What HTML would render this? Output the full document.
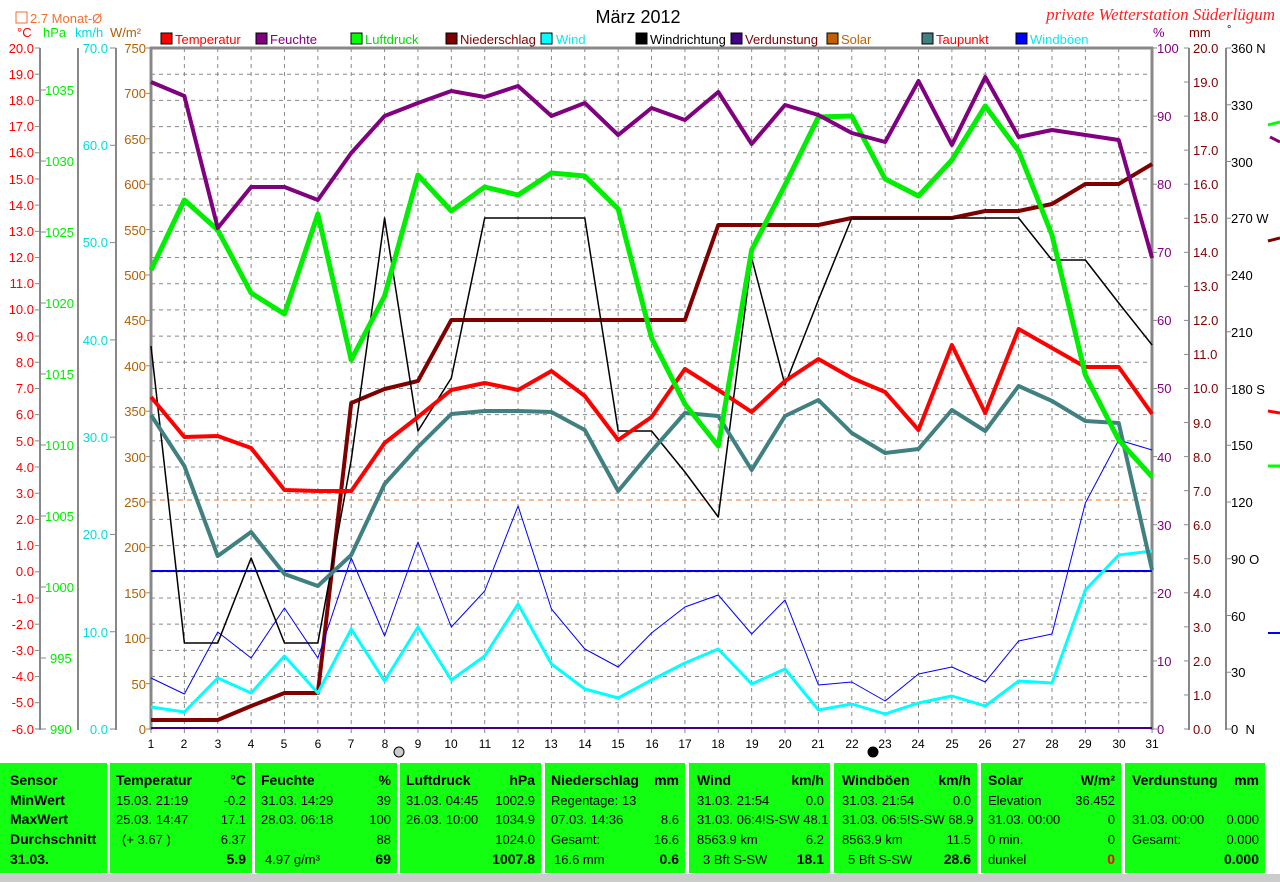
<!DOCTYPE html>
<html><head><meta charset="utf-8"><style>
body{margin:0;background:#fff;width:1280px;height:882px;overflow:hidden;position:relative;font-family:"Liberation Sans",sans-serif}
svg{position:absolute;left:0;top:0}
.tb{position:absolute;top:763px;height:110px;background:#12ff12;font-size:13px;color:#000}
.tb div{position:absolute;white-space:nowrap}
.h{font-weight:bold;font-size:14px}
</style></head><body>
<svg width="1280" height="882" font-family="Liberation Sans, sans-serif">
<g id="grid" stroke="#888" stroke-dasharray="4,4" stroke-width="1"></g>
<line x1="150" y1="48" x2="1153" y2="48" stroke="#888" stroke-width="3"/>
<line x1="151" y1="47" x2="151" y2="730" stroke="#888" stroke-width="3"/>
<line x1="1152" y1="47" x2="1152" y2="730" stroke="#888" stroke-width="3"/>
<line x1="40" y1="48" x2="40" y2="730" stroke="#888" stroke-width="2"/>
<line x1="78" y1="48" x2="78" y2="730" stroke="#888" stroke-width="2"/>
<line x1="116" y1="48" x2="116" y2="730" stroke="#888" stroke-width="2"/>
<line x1="1189" y1="48" x2="1189" y2="730" stroke="#888" stroke-width="2"/>
<line x1="1226" y1="48" x2="1226" y2="730" stroke="#888" stroke-width="2"/>
<g id="ticks" stroke="#888" stroke-width="1"></g>
<line x1="151" y1="500" x2="1152" y2="500" stroke="#f07020" stroke-dasharray="5,4" stroke-width="1"/>
<line x1="151" y1="571" x2="1152" y2="571" stroke="#0000ee" stroke-width="2"/>
<line x1="151" y1="728" x2="1152" y2="728" stroke="#400080" stroke-width="2"/>
<g id="series" fill="none" stroke-linejoin="round"></g>
<circle cx="399" cy="752" r="5" fill="#ccc" stroke="#000"/>
<circle cx="873" cy="752" r="5" fill="#000" stroke="#000"/>
<text x="638" y="23" font-size="18" text-anchor="middle">März 2012</text>
<text x="1275" y="20" font-size="17" fill="#ff2020" font-style="italic" font-family="Liberation Serif, serif" text-anchor="end">private Wetterstation Süderlügum</text>
<rect x="16" y="12" width="11" height="11" fill="none" stroke="#f07030"/>
<text x="30" y="23" font-size="13" fill="#f07030">2.7 Monat-Ø</text>
<text x="17" y="37" font-size="13" fill="#f00">°C</text><text x="43" y="37" font-size="13" fill="#0e0">hPa</text><text x="75" y="37" font-size="13" fill="#0dd">km/h</text><text x="110" y="37" font-size="13" fill="#b06000">W/m²</text>
<text x="1153" y="37" font-size="13" fill="#800080">%</text><text x="1189" y="37" font-size="13" fill="#800000">mm</text><text x="1227" y="33" font-size="11">°</text>
<g font-size="13">
<rect x="161" y="33" width="11" height="11" fill="#f00" stroke="#000"/><text x="175" y="44" fill="#f00">Temperatur</text>
<rect x="256" y="33" width="11" height="11" fill="#800080" stroke="#000"/><text x="270" y="44" fill="#800080">Feuchte</text>
<rect x="351" y="33" width="11" height="11" fill="#0f0" stroke="#000"/><text x="365" y="44" fill="#0d0">Luftdruck</text>
<rect x="446" y="33" width="11" height="11" fill="#800000" stroke="#000"/><text x="460" y="44" fill="#800000">Niederschlag</text>
<rect x="541" y="33" width="11" height="11" fill="#0ff" stroke="#000"/><text x="556" y="44" fill="#0ee">Wind</text>
<rect x="636" y="33" width="11" height="11" fill="#000" stroke="#000"/><text x="650" y="44">Windrichtung</text>
<rect x="731" y="33" width="11" height="11" fill="#400080" stroke="#000"/><text x="745" y="44" fill="#800000">Verdunstung</text>
<rect x="827" y="33" width="11" height="11" fill="#c06000" stroke="#000"/><text x="841" y="44" fill="#c06000">Solar</text>
<rect x="922" y="33" width="11" height="11" fill="#408080" stroke="#000"/><text x="936" y="44" fill="#f00">Taupunkt</text>
<rect x="1016" y="33" width="11" height="11" fill="#00f" stroke="#000"/><text x="1030" y="44" fill="#0ee">Windböen</text>
</g>
<g font-size="13" fill="#f00" text-anchor="end">
<text x="34" y="53">20.0</text><text x="34" y="79">19.0</text><text x="34" y="105">18.0</text><text x="34" y="131">17.0</text><text x="34" y="157">16.0</text><text x="34" y="184">15.0</text><text x="34" y="210">14.0</text><text x="34" y="236">13.0</text><text x="34" y="262">12.0</text><text x="34" y="288">11.0</text><text x="34" y="314">10.0</text><text x="34" y="341">9.0</text><text x="34" y="367">8.0</text><text x="34" y="393">7.0</text><text x="34" y="419">6.0</text><text x="34" y="446">5.0</text><text x="34" y="472">4.0</text><text x="34" y="498">3.0</text><text x="34" y="524">2.0</text><text x="34" y="550">1.0</text><text x="34" y="576">0.0</text><text x="34" y="603">-1.0</text><text x="34" y="629">-2.0</text><text x="34" y="655">-3.0</text><text x="34" y="681">-4.0</text><text x="34" y="707">-5.0</text><text x="34" y="734">-6.0</text>
</g>
<g font-size="13" fill="#0e0">
<text x="45" y="95">1035</text><text x="45" y="166">1030</text><text x="45" y="237">1025</text><text x="45" y="308">1020</text><text x="45" y="379">1015</text><text x="45" y="450">1010</text><text x="45" y="521">1005</text><text x="45" y="592">1000</text><text x="50" y="663">995</text><text x="50" y="734">990</text>
</g>
<g font-size="13" fill="#0dd" text-anchor="end">
<text x="108" y="53">70.0</text><text x="108" y="150">60.0</text><text x="108" y="247">50.0</text><text x="108" y="345">40.0</text><text x="108" y="442">30.0</text><text x="108" y="539">20.0</text><text x="108" y="637">10.0</text><text x="108" y="734">0.0</text>
</g>
<g font-size="13" fill="#b06000" text-anchor="end">
<text x="146" y="53">750</text><text x="146" y="98">700</text><text x="146" y="144">650</text><text x="146" y="189">600</text><text x="146" y="235">550</text><text x="146" y="280">500</text><text x="146" y="325">450</text><text x="146" y="371">400</text><text x="146" y="416">350</text><text x="146" y="462">300</text><text x="146" y="507">250</text><text x="146" y="552">200</text><text x="146" y="598">150</text><text x="146" y="643">100</text><text x="146" y="689">50</text><text x="146" y="734">0</text>
</g>
<g font-size="13" fill="#800080">
<text x="1157" y="53">100</text><text x="1157" y="121">90</text><text x="1157" y="189">80</text><text x="1157" y="257">70</text><text x="1157" y="325">60</text><text x="1157" y="393">50</text><text x="1157" y="462">40</text><text x="1157" y="530">30</text><text x="1157" y="598">20</text><text x="1157" y="666">10</text><text x="1157" y="734">0</text>
</g>
<g font-size="13" fill="#800000">
<text x="1193" y="53">20.0</text><text x="1193" y="87">19.0</text><text x="1193" y="121">18.0</text><text x="1193" y="155">17.0</text><text x="1193" y="189">16.0</text><text x="1193" y="223">15.0</text><text x="1193" y="257">14.0</text><text x="1193" y="291">13.0</text><text x="1193" y="325">12.0</text><text x="1193" y="359">11.0</text><text x="1193" y="393">10.0</text><text x="1193" y="428">9.0</text><text x="1193" y="462">8.0</text><text x="1193" y="496">7.0</text><text x="1193" y="530">6.0</text><text x="1193" y="564">5.0</text><text x="1193" y="598">4.0</text><text x="1193" y="632">3.0</text><text x="1193" y="666">2.0</text><text x="1193" y="700">1.0</text><text x="1193" y="734">0.0</text>
</g>
<g font-size="13" fill="#000">
<text x="1231" y="53">360 N</text><text x="1231" y="110">330</text><text x="1231" y="167">300</text><text x="1231" y="223">270 W</text><text x="1231" y="280">240</text><text x="1231" y="337">210</text><text x="1231" y="394">180 S</text><text x="1231" y="450">150</text><text x="1231" y="507">120</text><text x="1231" y="564">90 O</text><text x="1231" y="621">60</text><text x="1231" y="677">30</text><text x="1231" y="734">0&#160;&#160;N</text>
</g>
<g font-size="12" text-anchor="middle">
<text x="151" y="748">1</text><text x="184" y="748">2</text><text x="218" y="748">3</text><text x="251" y="748">4</text><text x="284" y="748">5</text><text x="318" y="748">6</text><text x="351" y="748">7</text><text x="385" y="748">8</text><text x="418" y="748">9</text><text x="451" y="748">10</text><text x="485" y="748">11</text><text x="518" y="748">12</text><text x="551" y="748">13</text><text x="585" y="748">14</text><text x="618" y="748">15</text><text x="652" y="748">16</text><text x="685" y="748">17</text><text x="718" y="748">18</text><text x="752" y="748">19</text><text x="785" y="748">20</text><text x="818" y="748">21</text><text x="852" y="748">22</text><text x="885" y="748">23</text><text x="918" y="748">24</text><text x="952" y="748">25</text><text x="985" y="748">26</text><text x="1019" y="748">27</text><text x="1052" y="748">28</text><text x="1085" y="748">29</text><text x="1119" y="748">30</text><text x="1152" y="748">31</text>
</g>
<g stroke-width="3">
<line x1="1268" y1="125" x2="1280" y2="122" stroke="#0f0"/>
<line x1="1268" y1="241" x2="1280" y2="238" stroke="#800000"/>
<line x1="1268" y1="411" x2="1280" y2="413" stroke="#f00"/>
<line x1="1268" y1="466" x2="1280" y2="466" stroke="#0f0"/>
<line x1="1268" y1="633" x2="1280" y2="633" stroke="#00f" stroke-width="2"/>
<line x1="1270" y1="137" x2="1280" y2="142" stroke="#800080"/>
</g>
<rect x="0" y="874" width="1280" height="8" fill="#ccc"/>
</svg>

<div class="tb" style="left:0;width:107px"><div class="h" style="left:10px;top:9px">Sensor</div><div class="h" style="left:10px;top:29px">MinWert</div><div class="h" style="left:10px;top:48px">MaxWert</div><div class="h" style="left:10px;top:68px">Durchschnitt</div><div class="h" style="left:10px;top:88px">31.03.</div></div>
<div class="tb" style="left:110px;width:142px"><div class="h" style="left:6px;top:9px">Temperatur</div><div class="h" style="right:6px;top:9px">°C</div><div style="left:6px;top:30px">15.03.&#160;21:19</div><div style="right:6px;top:30px">-0.2</div><div style="left:6px;top:49px">25.03.&#160;14:47</div><div style="right:6px;top:49px">17.1</div><div style="left:12px;top:69px">(+ 3.67 )</div><div style="right:6px;top:69px">6.37</div><div class="h" style="right:6px;top:88px">5.9</div></div>
<div class="tb" style="left:255px;width:142px"><div class="h" style="left:6px;top:9px">Feuchte</div><div class="h" style="right:6px;top:9px">%</div><div style="left:6px;top:30px">31.03.&#160;14:29</div><div style="right:6px;top:30px">39</div><div style="left:6px;top:49px">28.03.&#160;06:18</div><div style="right:6px;top:49px">100</div><div style="right:6px;top:69px">88</div><div style="left:10px;top:89px">4.97 g/m³</div><div class="h" style="right:6px;top:88px">69</div></div>
<div class="tb" style="left:400px;width:141px"><div class="h" style="left:6px;top:9px">Luftdruck</div><div class="h" style="right:6px;top:9px">hPa</div><div style="left:6px;top:30px">31.03.&#160;04:45</div><div style="right:6px;top:30px">1002.9</div><div style="left:6px;top:49px">26.03.&#160;10:00</div><div style="right:6px;top:49px">1034.9</div><div style="right:6px;top:69px">1024.0</div><div class="h" style="right:6px;top:88px">1007.8</div></div>
<div class="tb" style="left:545px;width:140px"><div class="h" style="left:6px;top:9px">Niederschlag</div><div class="h" style="right:6px;top:9px">mm</div><div style="left:6px;top:30px">Regentage: 13</div><div style="left:6px;top:49px">07.03.&#160;14:36</div><div style="right:6px;top:49px">8.6</div><div style="left:6px;top:69px">Gesamt:</div><div style="right:6px;top:69px">16.6</div><div style="left:9px;top:89px">16.6 mm</div><div class="h" style="right:6px;top:88px">0.6</div></div>
<div class="tb" style="left:689px;width:141px"><div class="h" style="left:8px;top:9px">Wind</div><div class="h" style="right:6px;top:9px">km/h</div><div style="left:8px;top:30px">31.03.&#160;21:54</div><div style="right:6px;top:30px">0.0</div><div style="left:8px;top:49px">31.03.&#160;06:4!S-SW 48.1</div><div style="left:8px;top:69px">8563.9 km</div><div style="right:6px;top:69px">6.2</div><div style="left:14px;top:89px">3 Bft S-SW</div><div class="h" style="right:6px;top:88px">18.1</div></div>
<div class="tb" style="left:834px;width:143px"><div class="h" style="left:8px;top:9px">Windböen</div><div class="h" style="right:6px;top:9px">km/h</div><div style="left:8px;top:30px">31.03.&#160;21:54</div><div style="right:6px;top:30px">0.0</div><div style="left:8px;top:49px">31.03.&#160;06:5!S-SW 68.9</div><div style="left:8px;top:69px">8563.9 km</div><div style="right:6px;top:69px">11.5</div><div style="left:14px;top:89px">5 Bft S-SW</div><div class="h" style="right:6px;top:88px">28.6</div></div>
<div class="tb" style="left:981px;width:140px"><div class="h" style="left:7px;top:9px">Solar</div><div class="h" style="right:6px;top:9px">W/m²</div><div style="left:7px;top:30px">Elevation</div><div style="right:6px;top:30px">36.452</div><div style="left:7px;top:49px">31.03.&#160;00:00</div><div style="right:6px;top:49px">0</div><div style="left:7px;top:69px">0 min.</div><div style="right:6px;top:69px">0</div><div style="left:7px;top:89px">dunkel</div><div class="h" style="right:6px;top:88px;color:#f00">0</div></div>
<div class="tb" style="left:1125px;width:140px"><div class="h" style="left:7px;top:9px">Verdunstung</div><div class="h" style="right:6px;top:9px">mm</div><div style="left:7px;top:49px">31.03.&#160;00:00</div><div style="right:6px;top:49px">0.000</div><div style="left:7px;top:69px">Gesamt:</div><div style="right:6px;top:69px">0.000</div><div class="h" style="right:6px;top:88px">0.000</div></div>

<script>
var NS="http://www.w3.org/2000/svg";
function el(p,t,a){var e=document.createElementNS(NS,t);for(var k in a)e.setAttribute(k,a[k]);p.appendChild(e);return e;}
var g=document.getElementById("grid"),tk=document.getElementById("ticks"),s=document.getElementById("series");
function X(d){return 151+(d-1)*33.37;}
for(var d=2;d<=30;d++)el(g,"line",{x1:X(d),y1:48,x2:X(d),y2:728});
for(var i=1;i<26;i++){var y=48+i*26.19;el(g,"line",{x1:151,y1:y,x2:1152,y2:y});}
for(var i=0;i<=26;i++){var y=48+i*26.19;el(tk,"line",{x1:35,y1:y,x2:40,y2:y});}
for(var i=0;i<10;i++){var y=90+i*71;el(tk,"line",{x1:40,y1:y,x2:46,y2:y});}
for(var i=0;i<=7;i++){var y=48+i*97.29;el(tk,"line",{x1:110,y1:y,x2:116,y2:y});}
for(var i=0;i<=15;i++){var y=48+i*45.4;el(tk,"line",{x1:146,y1:y,x2:151,y2:y});}
for(var i=0;i<=10;i++){var y=48+i*68.1;el(tk,"line",{x1:1152,y1:y,x2:1157,y2:y});}
for(var i=0;i<=20;i++){var y=48+i*34.05;el(tk,"line",{x1:1184,y1:y,x2:1189,y2:y});}
for(var i=0;i<=12;i++){var y=48+i*56.75;el(tk,"line",{x1:1226,y1:y,x2:1231,y2:y});}
for(var d=1;d<=31;d++)el(tk,"line",{x1:X(d),y1:728,x2:X(d),y2:733});
function P(a,c,w){el(s,"polyline",{points:a.map(function(v,i){return X(i+1)+","+v;}).join(" "),stroke:c,"stroke-width":w});}
P([720,720,720,706,693,693,403,389,381,320,320,320,320,320,320,320,320,225,225,225,225,218,218,218,218,211,211,204,184,184,164],"#800000",4);
P([678,694,632,658,608,658,558,636,542,627,591,506,609,649,667,633,607,595,634,600,685,682,701,674,667,682,641,634,503,440,450],"#0000ff",1);
P([346,643,643,558,643,643,460,218,431,378,218,218,218,218,431,431,472,517,258,385,300,218,218,218,218,218,218,260,260,303,345],"#000",1.5);
P([707,712,678,693,656,693,629,681,627,680,656,604,664,689,698,680,663,649,684,669,710,704,714,703,696,706,681,683,590,555,551],"#00ffff",3);
P([415,466,556,532,574,586,555,484,447,414,411,411,412,430,491,451,413,416,470,416,400,433,453,449,410,431,386,401,421,423,570],"#408080",4);
P([397,437,436,448,490,491,491,443,417,390,383,390,371,396,440,417,369,390,412,381,359,378,392,430,345,413,329,348,367,367,414],"#ff0000",4);
P([270,200,230,293,314,214,360,296,175,211,187,195,173,176,209,338,404,446,250,185,117,116,179,196,160,106,151,235,375,440,477],"#00ee00",5);
P([82,96,228,187,187,200,153,116,103,91,97,86,116,103,135,108,120,92,144,105,115,133,142,81,145,77,137,130,135,140,258],"#800080",4);
</script>
</body></html>
